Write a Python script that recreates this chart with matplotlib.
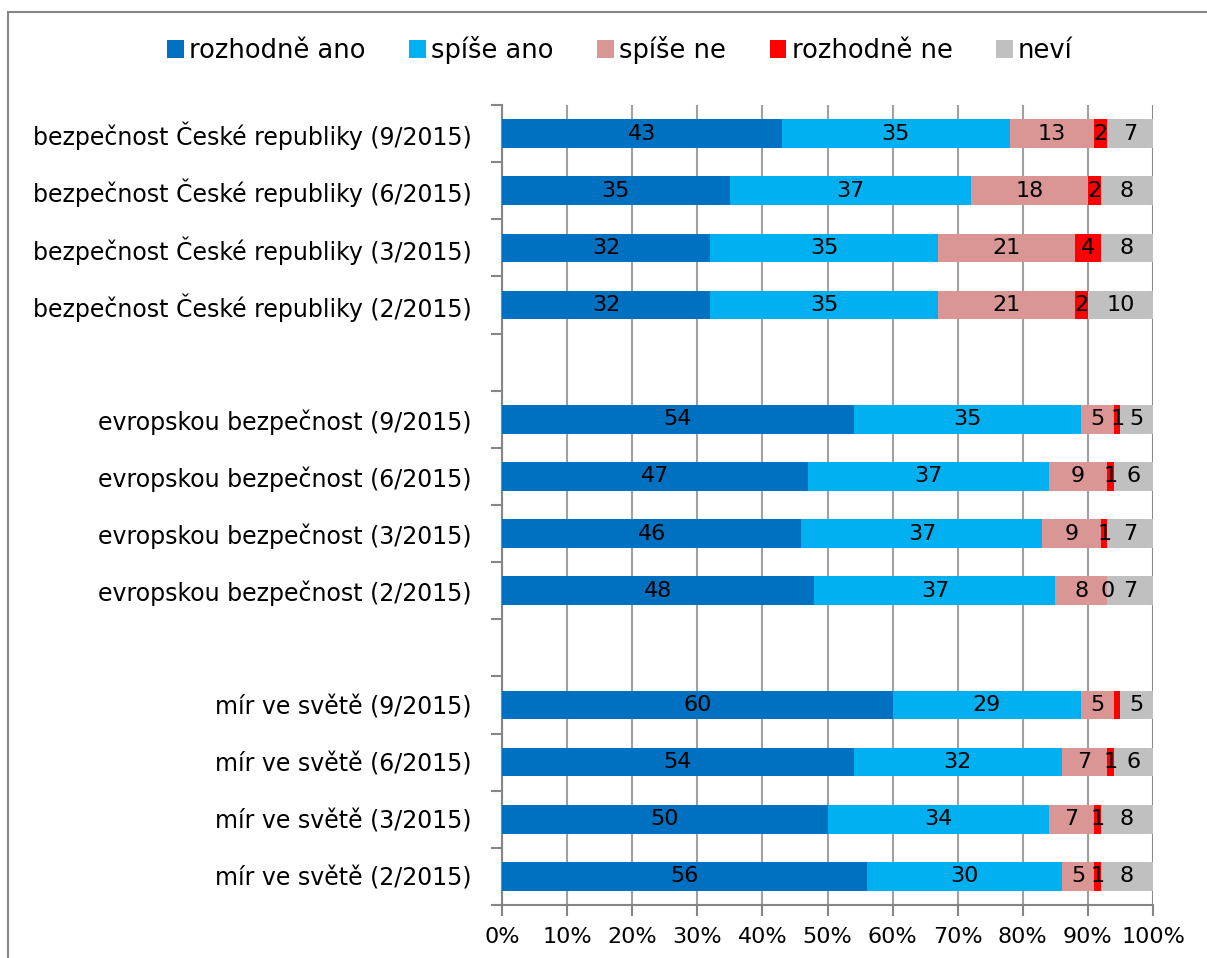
import matplotlib
matplotlib.use("Agg")
import matplotlib.pyplot as plt
from matplotlib.patches import Rectangle
import numpy as np

categories = [
    "bezpečnost České republiky (9/2015)",
    "bezpečnost České republiky (6/2015)",
    "bezpečnost České republiky (3/2015)",
    "bezpečnost České republiky (2/2015)",
    "",
    "evropskou bezpečnost (9/2015)",
    "evropskou bezpečnost (6/2015)",
    "evropskou bezpečnost (3/2015)",
    "evropskou bezpečnost (2/2015)",
    "",
    "mír ve světě (9/2015)",
    "mír ve světě (6/2015)",
    "mír ve světě (3/2015)",
    "mír ve světě (2/2015)",
]
series_names = ["rozhodně ano", "spíše ano", "spíše ne", "rozhodně ne", "neví"]
rozhodne_ano = [43, 35, 32, 32, None, 54, 47, 46, 48, None, 60, 54, 50, 56]
spise_ano    = [35, 37, 35, 35, None, 35, 37, 37, 37, None, 29, 32, 34, 30]
spise_ne     = [13, 18, 21, 21, None, 5, 9, 9, 8, None, 5, 7, 7, 5]
rozhodne_ne  = [2, 2, 4, 2, None, 1, 1, 1, 0, None, 1, 1, 1, 1]
nevi         = [7, 8, 8, 10, None, 5, 6, 7, 7, None, 5, 6, 8, 8]
# labels not displayed in the original (row index, series index)
hidden_labels = {(10, 3)}
xticks = [0, 10, 20, 30, 40, 50, 60, 70, 80, 90, 100]
xtick_labels = ["0%", "10%", "20%", "30%", "40%", "50%", "60%", "70%", "80%", "90%", "100%"]

colors = ["#0070C0", "#00B0F0", "#D99694", "#FF0000", "#C0C0C0"]

plt.rcParams['font.family'] = ['DejaVu Sans']

W, H = 1207, 958
fig = plt.figure(figsize=(W / 100, H / 100), dpi=100)
ax = fig.add_axes([502 / W, 1 - 905 / H, (1153 - 502) / W, (905 - 105) / H])

series = [rozhodne_ano, spise_ano, spise_ne, rozhodne_ne, nevi]
n = len(categories)
y = np.arange(n)
left = np.zeros(n)
handles = []
for si, (vals, col, name) in enumerate(zip(series, colors, series_names)):
    v = np.array([0 if x is None else x for x in vals], dtype=float)
    bars = ax.barh(y, v, left=left, height=0.5, color=col, edgecolor="none",
                   label=name, zorder=3)
    handles.append(bars)
    for i, x in enumerate(vals):
        if x is None or (i, si) in hidden_labels:
            continue
        ax.text(left[i] + v[i] / 2, y[i], str(x), ha="center", va="center",
                fontsize=16, color="black", zorder=4)
    left += v

ax.set_xlim(0, 100)
ax.set_ylim(n - 0.5, -0.5)
ax.set_xticks(xticks)
ax.set_xticklabels(xtick_labels, fontsize=16)
ax.set_yticks(y)
ax.set_yticklabels(categories, fontsize=17)
ax.set_yticks(np.arange(-0.5, n, 1.0), minor=True)
ax.tick_params(axis="y", which="major", length=0, pad=22)
ax.tick_params(axis="y", which="minor", length=8, width=1.5, color="#868686", direction="out")
ax.tick_params(axis="x", which="major", length=8, width=1.5, color="#868686", direction="out", pad=8)
ax.xaxis.grid(True, color="#A0A0A0", linewidth=1.5, zorder=0)
ax.set_axisbelow(True)
for s in ["top", "right"]:
    ax.spines[s].set_visible(False)
ax.spines["left"].set_color("#868686")
ax.spines["left"].set_linewidth(1.5)
ax.spines["bottom"].set_color("#868686")
ax.spines["bottom"].set_linewidth(1.5)
ax.axvline(100, color="#868686", linewidth=2, zorder=1)

fig.legend(handles=handles, labels=series_names, loc="center",
           bbox_to_anchor=(620 / W, 1 - 50 / H), ncol=5, frameon=False,
           fontsize=18.5, handlelength=0.65, handleheight=0.65,
           handletextpad=0.2, columnspacing=1.7)

# outer chart frame
fig.patches.append(Rectangle((8 / W, -0.05), 1.2, 1 - 12 / H + 0.05,
                             transform=fig.transFigure, fill=False,
                             edgecolor="#868686", linewidth=1.5))

fig.savefig("out.png", dpi=100)
